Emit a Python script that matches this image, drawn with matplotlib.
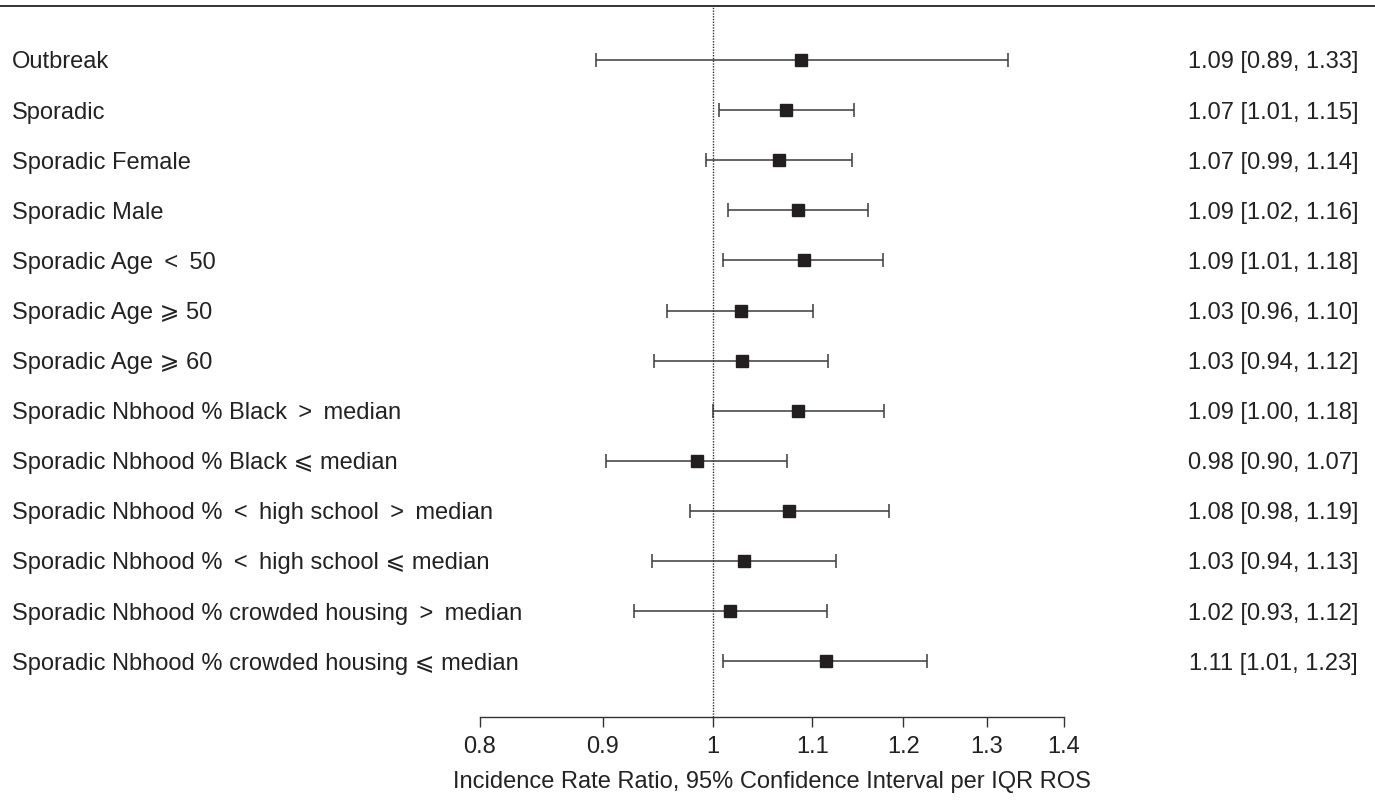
import matplotlib
matplotlib.use("Agg")
import matplotlib.pyplot as plt
import matplotlib.transforms as mtransforms
from matplotlib.lines import Line2D
import numpy as np

plt.rcParams['font.family'] = ['Liberation Sans', 'DejaVu Sans']

TS = "\u2009"
labels = [
    "Outbreak",
    "Sporadic",
    "Sporadic Female",
    "Sporadic Male",
    f"Sporadic Age {TS}<{TS} 50",
    "Sporadic Age \u2a7e 50",
    "Sporadic Age \u2a7e 60",
    f"Sporadic Nbhood % Black {TS}>{TS} median",
    "Sporadic Nbhood % Black \u2a7d median",
    f"Sporadic Nbhood % {TS}<{TS} high school {TS}>{TS} median",
    f"Sporadic Nbhood % {TS}<{TS} high school \u2a7d median",
    f"Sporadic Nbhood % crowded housing {TS}>{TS} median",
    "Sporadic Nbhood % crowded housing \u2a7d median",
]
estimates = [1.0885, 1.073, 1.065, 1.085, 1.091, 1.027, 1.028, 1.085, 0.985, 1.076, 1.030, 1.017, 1.114]
lower = [0.894, 1.006, 0.993, 1.015, 1.010, 0.957, 0.945, 1.000, 0.903, 0.978, 0.943, 0.927, 1.010]
upper = [1.327, 1.145, 1.143, 1.160, 1.177, 1.101, 1.117, 1.178, 1.074, 1.184, 1.125, 1.116, 1.228]
annotations = [
    "1.09 [0.89, 1.33]", "1.07 [1.01, 1.15]", "1.07 [0.99, 1.14]", "1.09 [1.02, 1.16]",
    "1.09 [1.01, 1.18]", "1.03 [0.96, 1.10]", "1.03 [0.94, 1.12]", "1.09 [1.00, 1.18]",
    "0.98 [0.90, 1.07]", "1.08 [0.98, 1.19]", "1.03 [0.94, 1.13]", "1.02 [0.93, 1.12]",
    "1.11 [1.01, 1.23]",
]
xticks = [0.8, 0.9, 1.0, 1.1, 1.2, 1.3, 1.4]
xticklabels = ["0.8", "0.9", "1", "1.1", "1.2", "1.3", "1.4"]
xlabel = "Incidence Rate Ratio, 95% Confidence Interval per IQR ROS"

FS = 17
TXT = '#222222'
W, H = 1375, 801
fig = plt.figure(figsize=(W / 100, H / 100), dpi=100)
left_px, right_px = 480, 1064
top_px, bottom_px = 6, 717
ax = fig.add_axes([left_px / W, 1 - bottom_px / H, (right_px - left_px) / W, (bottom_px - top_px) / H])
ax.set_xscale('log')
ax.set_xlim(0.8, 1.4)
row0_px, row_step = 60, 50.1
ax.set_ylim((bottom_px - row0_px) / row_step, (top_px - row0_px) / row_step)

y = np.arange(len(labels))
est = np.array(estimates)
err = np.vstack([est - np.array(lower), np.array(upper) - est])
ax.errorbar(est, y, xerr=err, fmt='none', ecolor='#3a3a3a', elinewidth=1.1,
            capsize=4.8, capthick=1.1, clip_on=False)
ax.plot(est, y, 's', color='#231f20', markersize=8.7, clip_on=False, zorder=3)

ax.axvline(1.0, color='#333333', linestyle=(0, (1.0, 1.0)), linewidth=1.0)

for s in ['top', 'right', 'left']:
    ax.spines[s].set_visible(False)
ax.spines['bottom'].set_linewidth(1.0)
ax.spines['bottom'].set_color('#333333')
ax.set_yticks([])
ax.xaxis.set_minor_locator(matplotlib.ticker.NullLocator())
ax.set_xticks(xticks)
ax.set_xticklabels(xticklabels)
ax.tick_params(axis='x', direction='out', length=7, width=1.0, color='#333333',
               labelsize=FS, pad=7, labelcolor=TXT)
ax.set_xlabel(xlabel, fontsize=FS, labelpad=9, color=TXT)

shift = mtransforms.ScaledTranslation(0, -0.358 * FS / 72, fig.dpi_scale_trans)
trans_left = mtransforms.blended_transform_factory(fig.transFigure, ax.transData) + shift
for i, (lab, ann) in enumerate(zip(labels, annotations)):
    ax.text(12 / W, i, lab, transform=trans_left, ha='left', va='baseline', fontsize=FS, color=TXT)
    ax.text(1358 / W, i, ann, transform=trans_left, ha='right', va='baseline', fontsize=FS, color=TXT)

fig.add_artist(Line2D([0, 1], [1 - 6 / H, 1 - 6 / H], transform=fig.transFigure, color='#333333', linewidth=1.4))

fig.savefig("out.png", dpi=100)
